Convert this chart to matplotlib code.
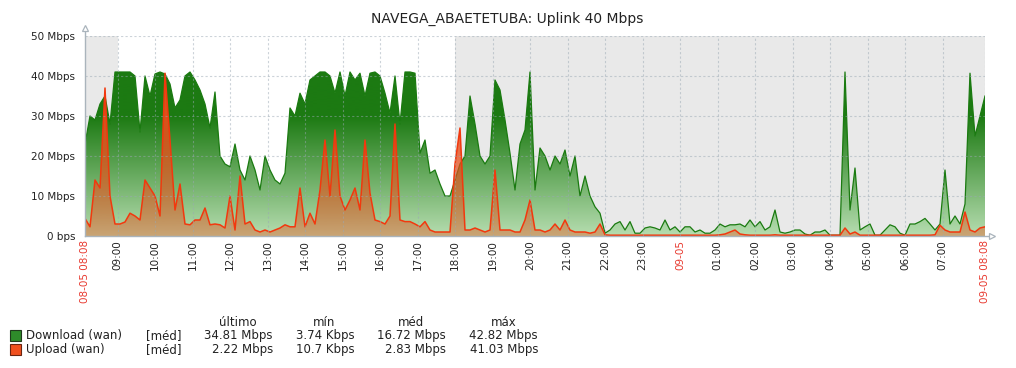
import numpy as np
import pandas as pd
import matplotlib
matplotlib.use("Agg")
import matplotlib.pyplot as plt
import matplotlib.dates as mdates
from matplotlib.patches import Rectangle, PathPatch
from matplotlib.colors import to_rgb

# ─── DATA ─────────────────────────────────────────────────────────────
START = "2024-05-08 08:08"
STEP = "8min"

# Mbps, one sample every 8 minutes
DOWNLOAD = [
    23, 30, 29, 33, 35, 28, 41, 41, 41, 41,
    40, 26, 40, 35, 40.5, 41, 40.5, 38, 32, 34,
    40, 41, 39, 36.5, 33, 27, 36, 20, 18, 17.3,
    23, 16.5, 14, 20, 16.5, 11.5, 20, 16.5, 14, 13,
    15.7, 32, 30, 35.7, 33, 39, 40, 41, 41, 40,
    35.7, 41, 35, 41, 39, 40.7, 35, 40.7, 41, 40,
    35.7, 30.7, 40, 28, 41, 41, 40.7, 20.7, 24, 15.7,
    16.5, 13, 10, 10, 14, 18, 20, 35, 28, 20,
    18, 20, 39, 36.5, 29, 20.7, 11.5, 23, 26.5, 41,
    11.5, 22, 20, 16.5, 20, 18, 21.5, 15, 20, 10,
    15, 10, 7.3, 5.7, 0.7, 1.5, 3, 3.6, 1.5, 3.6,
    0.7, 0.7, 2, 2.3, 2, 1.5, 4, 1.5, 2.3, 1,
    2.3, 2.3, 1, 1.5, 0.7, 0.7, 1.5, 3, 2.3, 2.8,
    2.8, 3, 2.3, 4, 2.3, 3.6, 1.5, 2.3, 6.5, 1,
    0.7, 1, 1.5, 1.5, 0.5, 0.2, 1, 1, 1.5, 0.2,
    0.2, 0.2, 41, 6.5, 17, 1.5, 2.3, 3, 0.2, 0.2,
    1.5, 2.8, 2.3, 0.7, 0.2, 3, 3, 3.6, 4.4, 3,
    1.5, 3, 16.5, 3, 5, 3, 8, 40.7, 25, 30,
    35,
]

UPLOAD = [
    4.4, 2.3, 14, 12, 37, 10, 3, 3, 3.5, 5.7,
    5, 4, 14, 12, 10, 5, 40.7, 24, 6.5, 13,
    3, 2.8, 4, 4, 7, 2.8, 3, 2.8, 2, 10,
    1.5, 15, 3, 3.6, 1.5, 1, 1.5, 1, 1.5, 2,
    2.8, 2.3, 2.3, 12, 2.3, 5.7, 3, 11.5, 24, 10,
    26.5, 10, 6.5, 9, 12, 6.5, 24, 10.7, 4, 3.6,
    3, 5, 28, 4, 3.6, 3.6, 3, 2.3, 3.6, 1.5,
    1, 1, 1, 1, 18, 27, 1.5, 1.5, 2, 1.5,
    1, 1.5, 16.5, 1.5, 1.5, 1.5, 1, 1, 4, 9,
    1.5, 1.5, 1, 1.5, 3, 1.5, 4, 1.5, 1, 1,
    1, 0.7, 1, 3, 0.3, 0.2, 0.2, 0.2, 0.2, 0.2,
    0.2, 0.2, 0.2, 0.2, 0.2, 0.2, 0.2, 0.2, 0.2, 0.2,
    0.2, 0.2, 0.2, 0.2, 0.2, 0.2, 0.2, 0.3, 0.5, 1.0,
    1.5, 0.5, 0.3, 0.2, 0.2, 0.2, 0.2, 0.2, 0.3, 0.2,
    0.2, 0.2, 0.2, 0.2, 0.2, 0.2, 0.2, 0.2, 0.2, 0.2,
    0.2, 0.2, 2, 0.5, 1, 0.2, 0.2, 0.2, 0.2, 0.2,
    0.2, 0.2, 0.2, 0.2, 0.2, 0.2, 0.2, 0.2, 0.2, 0.2,
    0.3, 2.7, 1.5, 1, 1, 1, 6, 1.5, 1, 2,
    2.3,
]

HOUR_LABELS = ["09:00", "10:00", "11:00", "12:00", "13:00", "14:00", "15:00",
               "16:00", "17:00", "18:00", "19:00", "20:00", "21:00", "22:00",
               "23:00", "09-05", "01:00", "02:00", "03:00", "04:00", "05:00",
               "06:00", "07:00"]
EDGE_LABELS = ["08-05 08:08", "09-05 08:08"]

Y_TICKS = [0, 10, 20, 30, 40, 50]
Y_LABELS = ["0 bps", "10 Mbps", "20 Mbps", "30 Mbps", "40 Mbps", "50 Mbps"]

WORK_START = "2024-05-08 09:00"
WORK_END = "2024-05-08 18:00"

TITLE = "NAVEGA_ABAETETUBA: Uplink 40 Mbps"
SERIES_NAMES = ["Download (wan)", "Upload (wan)"]
LEGEND_HEADERS = ["último", "mín", "méd", "máx"]
DOWNLOAD_STATS = ["34.81 Mbps", "3.74 Kbps", "16.72 Mbps", "42.82 Mbps"]
UPLOAD_STATS = ["2.22 Mbps", "10.7 Kbps", "2.83 Mbps", "41.03 Mbps"]

# ─── STYLE ────────────────────────────────────────────────────────────
W, H = 1016, 368
TEXT = "#222222"
RED = "#e83a30"
AXIS_COL = "#aab4bc"
GRID_COL = "#9aa8b4"
BG_GRAY = "#e9e9e9"
DL_LINE = "#1a7a10"
UL_LINE = "#f2380e"
YMAX = 50


def fx(px):
    return px / W


def fy(py):
    return 1 - py / H


def gradient_fill(ax, x, y, rgba, zorder):
    poly = ax.fill_between(x, 0, y, facecolor="none", edgecolor="none", zorder=zorder)
    clip = PathPatch(poly.get_paths()[0], transform=ax.transData,
                     facecolor="none", edgecolor="none")
    ax.add_patch(clip)
    im = ax.imshow(rgba, aspect="auto", origin="lower",
                   extent=[x[0], x[-1], 0, YMAX], zorder=zorder,
                   interpolation="bilinear")
    im.set_clip_path(clip)


# ─── FIGURE ───────────────────────────────────────────────────────────
fig = plt.figure(figsize=(W / 100, H / 100), dpi=100)
ax = fig.add_axes([fx(85), fy(236), 900 / W, 200 / H])
ax.set_facecolor(BG_GRAY)

times = pd.date_range(START, periods=len(DOWNLOAD), freq=STEP)
x = mdates.date2num(times)
dl = np.array(DOWNLOAD, dtype=float)
ul = np.array(UPLOAD, dtype=float)

ax.axvspan(mdates.date2num(pd.Timestamp(WORK_START)),
           mdates.date2num(pd.Timestamp(WORK_END)),
           color="white", zorder=0, lw=0)

# vertical colour ramps (value axis 0..50)
levels = np.linspace(0, YMAX, 256)
t = np.clip(levels / 30.0, 0, 1)[:, None]
light, dark = np.array(to_rgb("#b6ddb0")), np.array(to_rgb("#1c7a12"))
dl_rgba = np.ones((256, 1, 4))
dl_rgba[..., :3] = light * (1 - t)[..., None] + dark * t[..., None]

ul_rgba = np.ones((256, 1, 4))
ul_rgba[..., :3] = np.array(to_rgb("#e8501c"))
ul_rgba[..., 3] = (0.4 + 0.55 * np.clip(levels / 30.0, 0, 1))[:, None]

gradient_fill(ax, x, dl, dl_rgba, zorder=2)
ax.plot(x, dl, color=DL_LINE, lw=0.9, zorder=3)
gradient_fill(ax, x, ul, ul_rgba, zorder=4)
ax.plot(x, ul, color=UL_LINE, lw=1.1, zorder=5)

# grid drawn over the data, like zabbix
hours = pd.date_range(WORK_START, periods=len(HOUR_LABELS), freq="h")
for h in hours:
    ax.axvline(mdates.date2num(h), color=GRID_COL, lw=0.8, ls=(0, (2, 2)),
               alpha=0.5, zorder=6)
ax.axvline(x[-1], color=GRID_COL, lw=0.8, ls=(0, (2, 2)), alpha=0.5, zorder=6)
for v in Y_TICKS[1:]:
    ax.axhline(v, color=GRID_COL, lw=0.8, ls=(0, (2, 2)), alpha=0.5, zorder=6)

ax.set_xlim(x[0], x[-1])
ax.set_ylim(0, YMAX)
for s in ax.spines.values():
    s.set_visible(False)

# axis lines with hollow arrow heads
ax.plot([0, 0], [0, 1.04], transform=ax.transAxes, color=AXIS_COL, lw=1,
        clip_on=False, zorder=7)
ax.plot([0, 1.008], [0, 0], transform=ax.transAxes, color=AXIS_COL, lw=1,
        clip_on=False, zorder=7)
ax.plot([0], [1.04], marker="^", ms=5, mfc="white", mec=AXIS_COL, mew=0.9,
        transform=ax.transAxes, clip_on=False, zorder=8)
ax.plot([1.008], [0], marker=">", ms=5, mfc="white", mec=AXIS_COL, mew=0.9,
        transform=ax.transAxes, clip_on=False, zorder=8)

ax.set_yticks(Y_TICKS)
ax.set_yticklabels(Y_LABELS, fontsize=7.5, color=TEXT)
ax.tick_params(axis="y", length=0, pad=7)

xt = [x[0]] + [mdates.date2num(h) for h in hours] + [x[-1]]
xl = [EDGE_LABELS[0]] + HOUR_LABELS + [EDGE_LABELS[1]]
ax.set_xticks(xt)
ax.set_xticklabels(xl, rotation=90, fontsize=7.5, color=TEXT, va="top", ha="center")
ax.tick_params(axis="x", length=0, pad=3)
for lbl in ax.get_xticklabels():
    if "-" in lbl.get_text():
        lbl.set_color(RED)

fig.text(fx(507), fy(19), TITLE, ha="center", va="center", fontsize=10, color=TEXT)

# ─── LEGEND ───────────────────────────────────────────────────────────
FS = 8.5
head_x = [238, 324, 411, 504]
col_right = [273, 355, 446, 538]
for hx, txt in zip(head_x, LEGEND_HEADERS):
    fig.text(fx(hx), fy(322), txt, ha="center", va="center", fontsize=FS, color=TEXT)

rows = [(336, "#2e8b2a", "#1f3a1c", DOWNLOAD_STATS),
        (350, "#f0501e", "#6a2410", UPLOAD_STATS)]
for (ry, fc, ec, stats), name in zip(rows, SERIES_NAMES):
    fig.patches.append(Rectangle((fx(10), fy(ry + 5)), 11 / W, 11 / H,
                                 transform=fig.transFigure, facecolor=fc,
                                 edgecolor=ec, lw=0.8))
    fig.text(fx(26), fy(ry), name, ha="left", va="center", fontsize=FS, color=TEXT)
    fig.text(fx(146), fy(ry), "[méd]", ha="left", va="center", fontsize=FS, color=TEXT)
    for cx, s in zip(col_right, stats):
        fig.text(fx(cx), fy(ry), s, ha="right", va="center", fontsize=FS, color=TEXT)

fig.savefig("out.png", dpi=100)
